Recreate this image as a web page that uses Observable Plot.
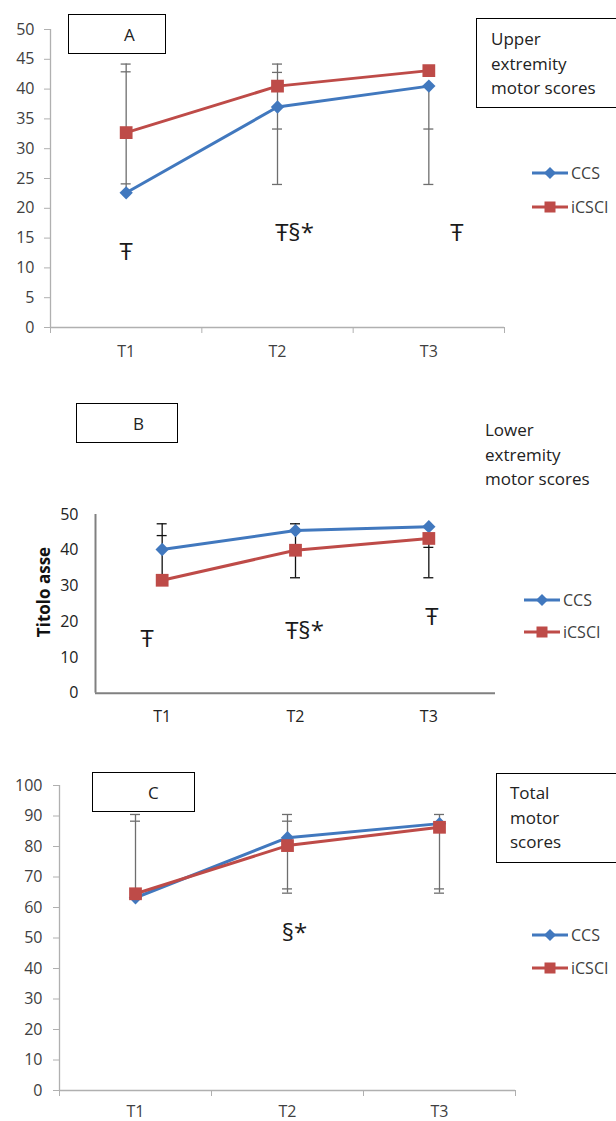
<!DOCTYPE html>
<html><head><meta charset="utf-8">
<script src="https://cdn.jsdelivr.net/npm/d3@7"></script>
<script src="https://cdn.jsdelivr.net/npm/@observablehq/plot@0.6"></script>
<style>
body{margin:0;background:#fff;font-family:"Open Sans",sans-serif;}
#wrap{position:relative;width:616px;height:1121px;overflow:hidden;background:#fff;}
.panel{position:absolute;left:0;}
.box{position:absolute;border:1.5px solid #000;box-sizing:border-box;background:#fff;}
.t{position:absolute;color:#222;font-size:17px;line-height:24.5px;white-space:nowrap;}
.leg{position:absolute;font-size:16px;color:#404040;white-space:nowrap;display:flex;align-items:center;}
.leg svg{margin-right:3px;}
.ytitle{position:absolute;font-weight:bold;font-size:17px;color:#111;transform:translate(-50%,-50%) rotate(-90deg);white-space:nowrap;}
</style></head><body><div id="wrap"></div>
<script>
const timepoints = ["T1", "T2", "T3"];
const seriesNames = ["CCS", "iCSCI"];

// Panel A: Upper extremity motor scores
const upperCCS = [22.6, 37.0, 40.5];
const upperICSCI = [32.7, 40.5, 43.1];
const upperErrLow = [22.6, 24.0, 24.0];
const upperErrHigh = [44.2, 44.2, 40.5];
const upperCaps = [[44.2, 42.9, 24.1], [44.2, 42.8, 33.3, 24.0], [33.3, 24.0]];
const upperSig = ["Ŧ", "Ŧ§*", "Ŧ"];
const upperSigY = [12.6, 15.8, 15.8];
const upperTicks = [0, 5, 10, 15, 20, 25, 30, 35, 40, 45, 50];

// Panel B: Lower extremity motor scores
const lowerCCS = [40.2, 45.5, 46.6];
const lowerICSCI = [31.6, 40.0, 43.3];
const lowerErrLow = [31.6, 32.3, 32.3];
const lowerErrHigh = [47.4, 47.4, 43.3];
const lowerCaps = [[47.4, 44.1], [47.4, 32.3], [40.8, 32.3]];
const lowerSig = ["Ŧ", "Ŧ§*", "Ŧ"];
const lowerSigY = [15.0, 17.3, 21.2];
const lowerTicks = [0, 10, 20, 30, 40, 50];

// Panel C: Total motor scores
const totalCCS = [63.2, 82.9, 87.5];
const totalICSCI = [64.5, 80.3, 86.3];
const totalErrLow = [64.5, 64.7, 64.7];
const totalErrHigh = [90.5, 90.5, 90.5];
const totalCaps = [[90.5, 88.3], [90.5, 88.3, 66.1, 64.7], [90.5, 66.1, 64.7]];
const totalSig = [null, "§*", null];
const totalSigY = [null, 51.5, null];
const totalTicks = [0, 10, 20, 30, 40, 50, 60, 70, 80, 90, 100];

const BLUE = "#4178BE", RED = "#BE4B48";
const wrap = document.getElementById("wrap");

function panel(o) {
  const rows = timepoints.flatMap((t, i) => [
    {i: i + 1, series: "CCS", value: o.ccs[i]},
    {i: i + 1, series: "iCSCI", value: o.icsci[i]}
  ]);
  const errRows = timepoints.map((t, i) => ({i: i + 1, low: o.errLow[i], high: o.errHigh[i]}));
  const capRows = o.caps.flatMap((arr, i) => arr.map(v => ({i: i + 1, v})));
  const sigRows = timepoints.map((t, i) => ({i: i + 1, text: o.sig[i], y: o.sigY[i]}));
  const yMax = o.ticks[o.ticks.length - 1];
  const marks = [
    Plot.ruleX(errRows, {x: "i", y1: "low", y2: "high", stroke: o.errColor, strokeWidth: 1.3}),
    Plot.ruleY(capRows, {y: "v", x1: "i", x2: "i", insetLeft: -5, insetRight: -5, stroke: o.errColor, strokeWidth: 1.3}),
    Plot.ruleX([0.5], {y1: 0, y2: yMax, stroke: o.axisColor, strokeWidth: o.axisWidth}),
    Plot.ruleY([0], {x1: 0.5, x2: 3.5, stroke: o.axisColor, strokeWidth: o.axisWidth}),
    Plot.axisY({ticks: o.ticks, tickSize: o.yTickSize, tickPadding: o.yTickPadding, stroke: o.axisColor, fill: o.textColor, label: null, fontSize: 16}),
    Plot.axisX({ticks: [1, 2, 3], tickSize: 0, tickPadding: o.xLabelPadding, tickFormat: d => timepoints[d - 1], fill: o.textColor, label: null, fontSize: 16}),
    Plot.lineY(rows.filter(d => d.series === "CCS"), {x: "i", y: "value", stroke: BLUE, strokeWidth: 3}),
    Plot.lineY(rows.filter(d => d.series === "iCSCI"), {x: "i", y: "value", stroke: RED, strokeWidth: 3}),
    Plot.dot(rows.filter(d => d.series === "CCS"), {x: "i", y: "value", symbol: "diamond2", r: 6, fill: BLUE}),
    Plot.dot(rows.filter(d => d.series === "iCSCI"), {x: "i", y: "value", symbol: "square", r: 7.2, fill: RED})
  ];
  if (o.xTickSize > 0) {
    marks.push(Plot.axisX({ticks: [0.5, 1.5, 2.5, 3.5], tickSize: o.xTickSize, tickFormat: () => "", stroke: o.axisColor, label: null}));
  }
  sigRows.forEach((d, k) => {
    if (d.text) marks.push(Plot.text([d], {x: "i", y: "y", text: "text", dx: o.sigDx[k], fontSize: 24, fill: "#1a1a1a", fontFamily: "Open Sans"}));
  });
  const chart = Plot.plot({
    width: 616, height: o.height,
    marginTop: o.marginTop, marginBottom: o.marginBottom, marginLeft: o.marginLeft, marginRight: o.marginRight,
    x: {type: "linear", domain: [0.5, 3.5], label: null},
    y: {domain: [0, yMax], label: null},
    style: {fontSize: "16px", fontFamily: "Open Sans", background: "transparent", overflow: "visible"},
    marks
  });
  chart.classList.add("panel");
  chart.style.top = o.top + "px";
  wrap.appendChild(chart);
}

panel({top: 0, height: 372, marginTop: 29, marginBottom: 45, marginLeft: 50, marginRight: 112,
  ccs: upperCCS, icsci: upperICSCI, errLow: upperErrLow, errHigh: upperErrHigh, caps: upperCaps,
  sig: upperSig, sigY: upperSigY, sigDx: [0, 17, 28], ticks: upperTicks,
  yTickSize: 6, yTickPadding: 10, xTickSize: 6, xLabelPadding: 18,
  axisColor: "#B0B0B0", axisWidth: 1.3, textColor: "#404040", errColor: "#6E6E6E"});

panel({top: 380, height: 350, marginTop: 134, marginBottom: 37.3, marginLeft: 95, marginRight: 121,
  ccs: lowerCCS, icsci: lowerICSCI, errLow: lowerErrLow, errHigh: lowerErrHigh, caps: lowerCaps,
  sig: lowerSig, sigY: lowerSigY, sigDx: [-15, 9, 3], ticks: lowerTicks,
  yTickSize: 0, yTickPadding: 17, xTickSize: 0, xLabelPadding: 17,
  axisColor: "#808080", axisWidth: 2, textColor: "#222", errColor: "#111"});

panel({top: 740, height: 381, marginTop: 45, marginBottom: 31, marginLeft: 59, marginRight: 101,
  ccs: totalCCS, icsci: totalICSCI, errLow: totalErrLow, errHigh: totalErrHigh, caps: totalCaps,
  sig: totalSig, sigY: totalSigY, sigDx: [0, 7, 0], ticks: totalTicks,
  yTickSize: 6, yTickPadding: 11, xTickSize: 6, xLabelPadding: 15,
  axisColor: "#B0B0B0", axisWidth: 1.3, textColor: "#404040", errColor: "#6E6E6E"});

// Boxes and titles
function box(left, top, w, h) {
  const b = document.createElement("div");
  b.className = "box";
  Object.assign(b.style, {left: left + "px", top: top + "px", width: w + "px", height: h + "px"});
  wrap.appendChild(b);
}
function text(left, top, str, extra) {
  const t = document.createElement("div");
  t.className = "t";
  t.innerHTML = str;
  Object.assign(t.style, {left: left + "px", top: top + "px"}, extra || {});
  wrap.appendChild(t);
}
box(68, 14, 98, 40); text(124, 23, "A");
box(476, 18, 145, 90); text(491, 27, "Upper<br>extremity<br>motor scores");
box(76, 403, 102, 40); text(133, 412, "B");
text(485, 418, "Lower<br>extremity<br>motor scores");
box(92, 772, 103, 40); text(148, 781, "C");
box(496, 773, 125, 90); text(510, 781, "Total<br>motor<br>scores");

const yt = document.createElement("div");
yt.className = "ytitle"; yt.textContent = "Titolo asse";
Object.assign(yt.style, {left: "43px", top: "592px"});
wrap.appendChild(yt);

// Legends
function legend(x, yPos) {
  seriesNames.forEach((name, k) => {
    const color = k === 0 ? BLUE : RED;
    const marker = k === 0
      ? `<path d="M18 2 L24 8 L18 14 L12 8 Z" fill="${color}"/>`
      : `<rect x="12.5" y="2.5" width="11" height="11" fill="${color}"/>`;
    const d = document.createElement("div");
    d.className = "leg";
    d.innerHTML = `<svg width="36" height="16"><line x1="0" y1="8" x2="36" y2="8" stroke="${color}" stroke-width="3"/>${marker}</svg>${name}`;
    Object.assign(d.style, {left: x + "px", top: (yPos[k] - 10) + "px", height: "20px"});
    wrap.appendChild(d);
  });
}
legend(532, [173, 207]);
legend(524, [600, 632]);
legend(532, [935, 968]);
</script></body></html>
